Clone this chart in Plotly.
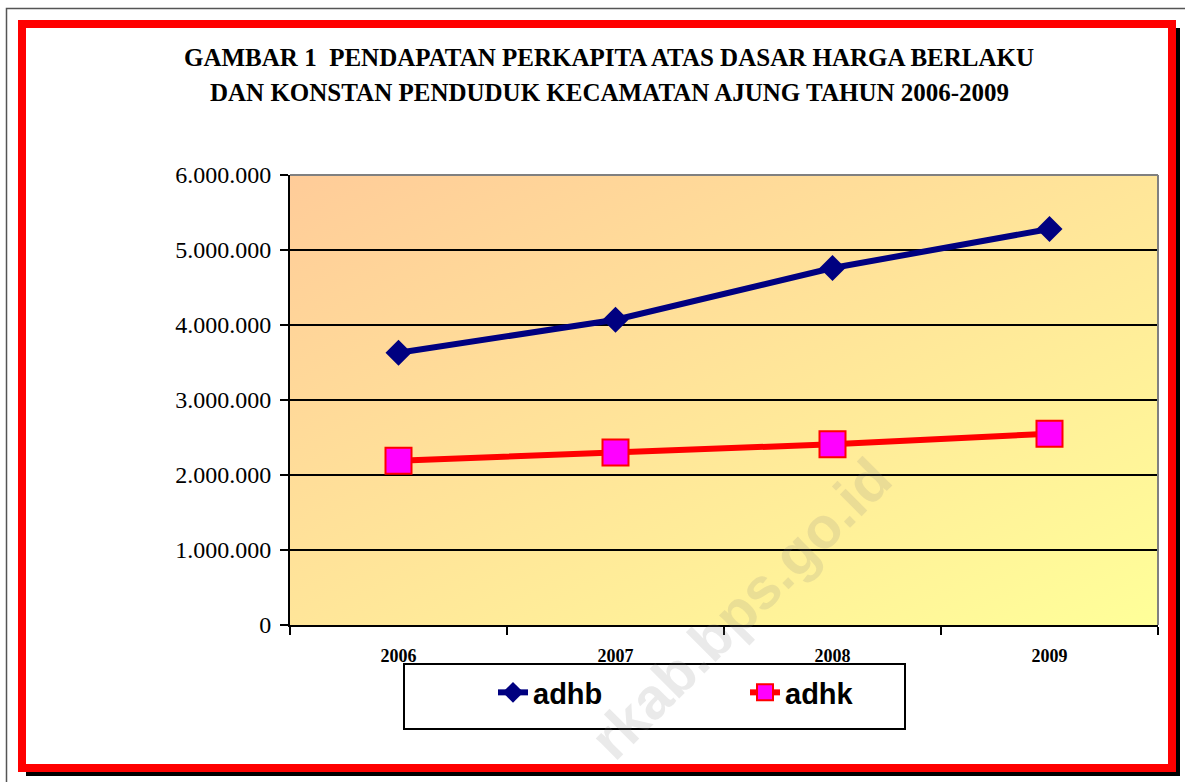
import base64
import plotly.graph_objects as go

# ---- data ----
categories = ["2006", "2007", "2008", "2009"]
adhb = [3630000, 4070000, 4760000, 5280000]
adhk = [2190000, 2300000, 2410000, 2550000]
y_tickvals = [0, 1000000, 2000000, 3000000, 4000000, 5000000, 6000000]
y_ticktext = ["0", "1.000.000", "2.000.000", "3.000.000", "4.000.000", "5.000.000", "6.000.000"]
title_line1 = "GAMBAR 1&nbsp;&nbsp;PENDAPATAN PERKAPITA ATAS DASAR HARGA BERLAKU"
title_line2 = "DAN KONSTAN PENDUDUK KECAMATAN AJUNG TAHUN 2006-2009"
watermark = "rkab.bps.go.id"

# ---- layout geometry (pixels) ----
FW, FH = 1185, 782
L, R, T, B = 290, 1158, 175, 625
W, H = R - L, B - T


def px(x):
    return (x - L) / W


def py(y):
    return (B - y) / H


svg = (
    '<svg xmlns="http://www.w3.org/2000/svg" width="868" height="450" '
    'viewBox="0 0 868 450" preserveAspectRatio="none">'
    '<defs><linearGradient id="g" x1="0" y1="0" x2="1" y2="1">'
    '<stop offset="0" stop-color="#FFCC99"/><stop offset="1" stop-color="#FFFF99"/>'
    '</linearGradient></defs><rect width="868" height="450" fill="url(#g)"/></svg>'
)
bg_uri = "data:image/svg+xml;base64," + base64.b64encode(svg.encode()).decode()

fig = go.Figure()
fig.add_trace(go.Scatter(
    x=categories, y=adhb, name="adhb", mode="lines+markers",
    line=dict(color="#000080", width=6),
    marker=dict(symbol="diamond", size=20, color="#000080"),
))
fig.add_trace(go.Scatter(
    x=categories, y=adhk, name="adhk", mode="lines+markers",
    line=dict(color="#FF0000", width=6),
    marker=dict(symbol="square", size=26, color="#FF00FF",
                line=dict(color="#FF0000", width=2)),
))

shapes = [
    # outer thin border
    dict(type="rect", xref="paper", yref="paper", x0=px(6.5), y0=py(8.5), x1=px(1300), y1=py(900),
         line=dict(color="#555555", width=1.5)),
    # shadow of red frame
    dict(type="line", xref="paper", yref="paper", x0=px(1178), y0=py(28), x1=px(1178), y1=py(776),
         line=dict(color="black", width=4)),
    dict(type="line", xref="paper", yref="paper", x0=px(26), y0=py(774), x1=px(1180), y1=py(774),
         line=dict(color="black", width=4)),
    # red frame
    dict(type="rect", xref="paper", yref="paper", x0=px(22), y0=py(24), x1=px(1172), y1=py(768),
         line=dict(color="#FF0000", width=8)),
    # plot area top/right border
    dict(type="line", xref="paper", yref="paper", x0=0, y0=1, x1=1, y1=1,
         line=dict(color="#808080", width=2)),
    dict(type="line", xref="paper", yref="paper", x0=1, y0=1, x1=1, y1=0,
         line=dict(color="#808080", width=2)),
    # legend box
    dict(type="rect", xref="paper", yref="paper", x0=px(404), y0=py(664), x1=px(905), y1=py(729),
         line=dict(color="black", width=2), fillcolor="white", layer="below"),
]

annotations = [
    dict(text=title_line1, xref="paper", yref="paper", x=px(609), y=py(57),
         showarrow=False, xanchor="center", yanchor="middle",
         font=dict(family="Liberation Serif", size=25, color="black", weight="bold")),
    dict(text=title_line2, xref="paper", yref="paper", x=px(609), y=py(93),
         showarrow=False, xanchor="center", yanchor="middle",
         font=dict(family="Liberation Serif", size=25, color="black", weight="bold")),
    dict(text=watermark, xref="paper", yref="paper", x=px(740), y=py(608),
         showarrow=False, xanchor="center", yanchor="middle", textangle=-45,
         font=dict(family="Liberation Sans", size=58, color="rgba(130,130,130,0.17)", weight="bold")),
]

fig.update_layout(
    width=FW, height=FH,
    margin=dict(l=L, r=FW - R, t=T, b=FH - B, autoexpand=False),
    paper_bgcolor="white",
    plot_bgcolor="white",
    images=[dict(source=bg_uri, xref="paper", yref="paper", x=0, y=1, sizex=1, sizey=1,
                 sizing="stretch", xanchor="left", yanchor="top", layer="below")],
    shapes=shapes,
    annotations=annotations,
    showlegend=True,
    legend=dict(
        orientation="h", xref="paper", yref="paper",
        x=px(491), y=py(665), xanchor="left", yanchor="top",
        bgcolor="rgba(0,0,0,0)", bordercolor="rgba(0,0,0,0)", borderwidth=2,
        font=dict(family="Liberation Sans", size=29, color="black", weight="bold"),
        entrywidth=207, entrywidthmode="pixels",
    ),
    xaxis=dict(
        type="category", range=[-0.5, 3.5],
        showline=True, linecolor="black", linewidth=2,
        ticks="outside", tickson="boundaries", ticklen=8, tickwidth=2, tickcolor="black",
        showgrid=False, ticklabelstandoff=13,
        tickfont=dict(family="Liberation Serif", size=18, color="black", weight="bold"),
    ),
    yaxis=dict(
        range=[0, 6000000], tickvals=y_tickvals, ticktext=y_ticktext,
        showline=True, linecolor="black", linewidth=2,
        ticks="outside", ticklen=8, tickwidth=2, tickcolor="black",
        showgrid=True, gridcolor="black", gridwidth=2, zeroline=False,
        ticklabelstandoff=4,
        tickfont=dict(family="Liberation Serif", size=24, color="black"),
    ),
)

fig.write_html("out.html", config={"displayModeBar": False},
               post_script="document.body.style.margin='0';")
